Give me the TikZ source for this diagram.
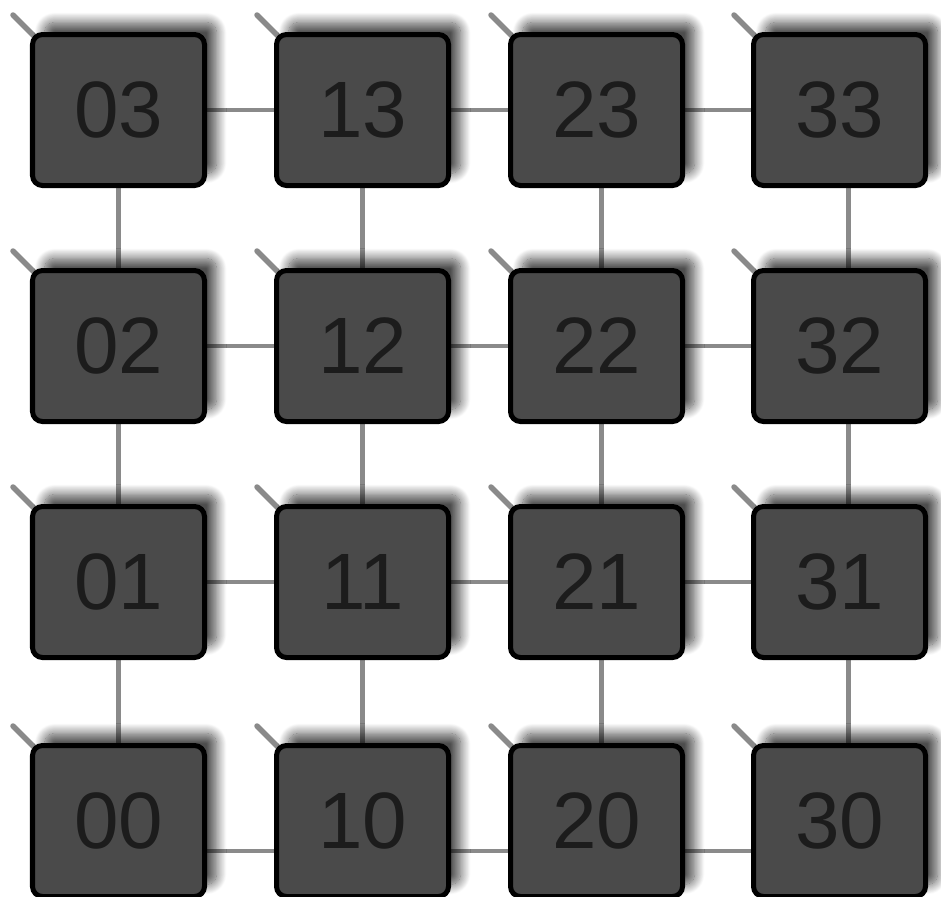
\documentclass[tikz,border=0pt]{standalone}
\usepackage{fontspec}
\setmainfont{Liberation Sans}
\usetikzlibrary{positioning,shadows.blur,backgrounds}
\definecolor{tilegray}{HTML}{4A4A4A}
\definecolor{tiletext}{HTML}{1C1C1C}
\definecolor{linkgray}{HTML}{8A8A8A}

\begin{document}
\begin{tikzpicture}[
    font=\fontsize{45.5}{50}\selectfont,
    node distance=1.6cm and 1.34cm,
    tile/.style={rectangle, draw=black, line width=0.1cm, rounded corners=0.2cm, fill=tilegray, text=tiletext,
        minimum width=3.44cm, minimum height=3.02cm, inner sep=0pt,
        blur shadow={shadow xshift=0.24cm, shadow yshift=0.24cm, shadow blur radius=0.2cm,
            shadow blur steps=16, shadow opacity=70}},
    link/.style={draw=linkgray, line width=0.09cm},
    stub/.style={draw=linkgray, line width=0.11cm, line cap=round}
]
    \useasboundingbox (0,0) rectangle (18.82,-17.92);

    % Top row
    \node (n03) [tile] at (2.37,-2.2) {03};
    \node (n13) [tile, right=1.34cm of n03] {13};
    \node (n23) [tile, right=1.14cm of n13] {23};
    \node (n33) [tile, right=1.32cm of n23] {33};

    % Second row
    \node (n02) [tile, below=of n03] {02};
    \node (n12) [tile, below=of n13] {12};
    \node (n22) [tile, below=of n23] {22};
    \node (n32) [tile, below=of n33] {32};

    % Third row
    \node (n01) [tile, below=of n02] {01};
    \node (n11) [tile, below=of n12] {11};
    \node (n21) [tile, below=of n22] {21};
    \node (n31) [tile, below=of n32] {31};

    % Bottom row
    \node (n00) [tile, below=1.66cm of n01] {00};
    \node (n10) [tile, below=1.66cm of n11] {10};
    \node (n20) [tile, below=1.66cm of n21] {20};
    \node (n30) [tile, below=1.66cm of n31] {30};

    \begin{scope}[on background layer]
    % Horizontal links
    \draw [link] (n03) -- (n13);
    \draw [link] (n13) -- (n23);
    \draw [link] (n23) -- (n33);
    \draw [link] (n02) -- (n12);
    \draw [link] (n12) -- (n22);
    \draw [link] (n22) -- (n32);
    \draw [link] (n01) -- (n11);
    \draw [link] (n11) -- (n21);
    \draw [link] (n21) -- (n31);
    \draw [link] ([yshift=-0.6cm]n00.east) -- ([yshift=-0.6cm]n10.west);
    \draw [link] ([yshift=-0.6cm]n10.east) -- ([yshift=-0.6cm]n20.west);
    \draw [link] ([yshift=-0.6cm]n20.east) -- ([yshift=-0.6cm]n30.west);

    % Vertical links
    \draw [link] (n03) -- (n02);
    \draw [link] (n02) -- (n01);
    \draw [link] (n01) -- (n00);
    \draw [link] (n13) -- (n12);
    \draw [link] (n12) -- (n11);
    \draw [link] (n11) -- (n10);
    \draw [link] ([xshift=0.1cm]n23.south) -- ([xshift=0.1cm]n22.north);
    \draw [link] ([xshift=0.1cm]n22.south) -- ([xshift=0.1cm]n21.north);
    \draw [link] ([xshift=0.1cm]n21.south) -- ([xshift=0.1cm]n20.north);
    \draw [link] ([xshift=0.18cm]n33.south) -- ([xshift=0.18cm]n32.north);
    \draw [link] ([xshift=0.18cm]n32.south) -- ([xshift=0.18cm]n31.north);
    \draw [link] ([xshift=0.18cm]n31.south) -- ([xshift=0.18cm]n30.north);

    % Corner stubs
    \draw [stub] ([shift={(0.08,-0.08)}]n03.north west) -- ++(-0.42,0.42);
    \draw [stub] ([shift={(0.08,-0.08)}]n13.north west) -- ++(-0.42,0.42);
    \draw [stub] ([shift={(0.08,-0.08)}]n23.north west) -- ++(-0.42,0.42);
    \draw [stub] ([shift={(0.08,-0.08)}]n33.north west) -- ++(-0.42,0.42);
    \draw [stub] ([shift={(0.08,-0.08)}]n02.north west) -- ++(-0.42,0.42);
    \draw [stub] ([shift={(0.08,-0.08)}]n12.north west) -- ++(-0.42,0.42);
    \draw [stub] ([shift={(0.08,-0.08)}]n22.north west) -- ++(-0.42,0.42);
    \draw [stub] ([shift={(0.08,-0.08)}]n32.north west) -- ++(-0.42,0.42);
    \draw [stub] ([shift={(0.08,-0.08)}]n01.north west) -- ++(-0.42,0.42);
    \draw [stub] ([shift={(0.08,-0.08)}]n11.north west) -- ++(-0.42,0.42);
    \draw [stub] ([shift={(0.08,-0.08)}]n21.north west) -- ++(-0.42,0.42);
    \draw [stub] ([shift={(0.08,-0.08)}]n31.north west) -- ++(-0.42,0.42);
    \draw [stub] ([shift={(0.08,-0.08)}]n00.north west) -- ++(-0.42,0.42);
    \draw [stub] ([shift={(0.08,-0.08)}]n10.north west) -- ++(-0.42,0.42);
    \draw [stub] ([shift={(0.08,-0.08)}]n20.north west) -- ++(-0.42,0.42);
    \draw [stub] ([shift={(0.08,-0.08)}]n30.north west) -- ++(-0.42,0.42);
    \end{scope}

\end{tikzpicture}
\end{document}
